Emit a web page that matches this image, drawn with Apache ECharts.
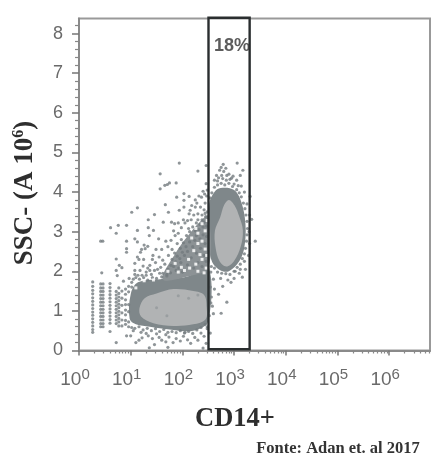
<!DOCTYPE html>
<html><head><meta charset="utf-8">
<style>html,body{margin:0;padding:0;background:#fff}#c{width:445px;height:462px;filter:blur(0.5px)}</style>
<script src="https://cdn.jsdelivr.net/npm/echarts@6/dist/echarts.min.js"></script>
</head><body><div id="c"></div>
<script>
// x values are log10(CD14+), y values are SSC-A in units of 10^6
const xTickValues = [1, 10, 100, 1000, 10000, 100000, 1000000];
const yTickValues = [0, 1, 2, 3, 4, 5, 6, 7, 8];
const yMinorValues = [0.2,0.4,0.6,0.8,1.2,1.4,1.6,1.8,2.2,2.4,2.6,2.8,3.2,3.4,3.6,3.8,4.2,4.4,4.6,4.8,5.2,5.4,5.6,5.8,6.2,6.4,6.6,6.8,7.2,7.4,7.6,7.8,8.2];
const gateX = [320, 2000];
const gateY = [0.03, 8.4];
const gateText = '18%';

const monocyteCore = [[2.90,3.80],[3.01,3.66],[3.10,3.38],[3.17,3.03],[3.13,2.63],[3.00,2.26],[2.85,2.12],[2.72,2.25],[2.64,2.61],[2.63,3.03],[2.73,3.36],[2.81,3.68]];
const monocyteHalo = [[2.74,4.10],[3.00,4.05],[3.14,3.75],[3.22,3.20],[3.20,2.61],[3.10,2.25],[2.90,2.00],[2.74,2.02],[2.58,2.22],[2.52,2.61],[2.52,3.70],[2.62,4.00]];
const lymphCore = [[1.17,1.07],[1.27,1.32],[1.50,1.44],[1.83,1.55],[2.21,1.50],[2.42,1.40],[2.47,1.09],[2.45,0.79],[2.21,0.66],[1.83,0.62],[1.44,0.69],[1.20,0.86]];
const lymphHalo = [[1.00,1.42],[1.14,1.72],[1.57,1.80],[2.08,1.86],[2.50,2.10],[2.50,0.74],[2.21,0.50],[1.83,0.52],[1.37,0.60],[1.10,0.66],[0.98,0.80]];
const diagonalBand = [[1.62,1.80],[1.86,2.44],[2.08,2.85],[2.34,3.25],[2.50,3.40],[2.50,2.10],[2.08,1.86]];

const stripeA = [[0.265,1.73],[0.265,1.62],[0.265,1.52],[0.265,1.43],[0.265,1.33],[0.265,1.24],[0.265,1.15],[0.265,1.06],[0.265,0.97],[0.265,0.89],[0.265,0.80],[0.265,0.71],[0.265,0.62],[0.265,0.53],[0.265,0.46]];
const stripeB = [[0.42,1.68],[0.42,1.58],[0.42,1.49],[0.42,1.40],[0.42,1.31],[0.42,1.22],[0.42,1.13],[0.42,1.04],[0.42,0.95],[0.42,0.86],[0.42,0.77],[0.42,0.68],[0.42,0.60],
  [0.465,1.68],[0.465,1.58],[0.465,1.49],[0.465,1.40],[0.465,1.31],[0.465,1.22],[0.465,1.13],[0.465,1.04],[0.465,0.95],[0.465,0.86],[0.465,0.77],[0.465,0.68],[0.465,0.60]];
const stripeC = [[0.60,1.69],[0.60,1.59],[0.60,1.50],[0.60,1.41],[0.60,1.32],[0.60,1.23],[0.60,1.14],[0.60,1.05],[0.60,0.96],[0.60,0.87],[0.60,0.78],[0.60,0.69],[0.60,0.48]];
const stripeD = [[0.72,1.49],[0.72,1.40],[0.72,1.31],[0.72,1.22],[0.72,1.13],[0.72,1.04],[0.72,0.95],[0.72,0.86],[0.72,0.77],[0.72,0.68],
  [0.77,1.58],[0.77,1.44],[0.77,1.35],[0.77,1.26],[0.77,1.17],[0.77,1.08],[0.77,0.99],[0.77,0.90],[0.77,0.81],[0.77,0.72],[0.77,0.62],
  [0.83,1.50],[0.83,1.32],[0.83,1.14],[0.83,0.95],[0.83,0.77],[0.83,0.62]];
const upperScatter = [[1.94,4.73],[1.57,4.46],[2.30,4.53],[2.46,4.67],[1.71,4.19],[1.66,4.17],[1.75,4.23],[1.57,4.08],[1.88,4.23],[1.89,3.87],[2.03,3.96],[2.03,3.79],[2.13,3.89],[2.25,3.80],[2.37,3.87],[2.46,4.21],[1.67,3.68],[1.13,3.60],[1.02,3.49],[1.46,3.43],[1.94,3.54],[1.73,3.49],[2.03,3.62],[2.15,3.54],[2.25,3.62],[1.34,3.30],[1.63,3.24],[1.79,3.24],[0.61,3.10],[0.76,3.16],[0.92,3.16],[0.72,2.96],[1.13,3.03],[1.34,3.10],[1.36,2.90],[1.44,3.03],[0.42,2.76],[0.46,2.76],[0.92,2.76],[0.92,2.57],[0.92,2.48],[1.08,2.82],[1.13,2.74],[1.54,2.82],[0.72,2.31],[0.78,2.15],[0.72,2.02],[0.83,2.09],[0.74,1.89],[0.44,1.96],[0.86,1.75],[0.97,1.82]];
const clusterScatter = [[1.13,2.36],[1.19,2.48],[1.28,2.57],[1.33,2.63],[1.08,2.20],[1.08,2.02],[1.24,2.13],[1.37,2.15],[1.37,2.02],[1.18,2.02],[1.25,2.30],[1.30,1.98],[1.08,1.92],[1.14,1.90],[1.22,1.90],[1.30,1.90],[1.40,1.92],[1.48,2.22],[1.55,2.36],[1.60,2.55],[1.49,2.55],[1.43,2.40],[1.52,2.05],[1.42,2.30],[1.58,2.10],[1.62,2.28],[1.21,2.55],[1.26,2.66],[1.16,2.30],[1.33,2.08],[1.46,2.02],[1.56,1.95]];
const diagonalScatter = [[1.68,2.76],[1.72,2.62],[1.78,2.78],[1.80,2.55],[1.86,2.90],[1.83,3.02],[1.92,2.96],[1.98,3.10],[1.90,2.70],[1.96,2.58],[1.73,2.40],[1.80,2.30],[1.66,2.18],[1.72,2.05],[1.83,2.12],[1.90,2.38],[1.97,2.22],[2.04,2.40],[2.02,2.72],[2.08,2.90],[2.05,3.22],[2.12,3.08],[2.17,3.30],[2.13,3.45],[2.22,3.42],[2.20,3.12],[2.27,3.22],[2.30,3.45],[2.35,3.62],[2.42,3.55],[2.44,3.72],[2.38,3.30],[2.45,3.38],[2.32,3.05],[2.40,3.12],[2.47,3.14],[2.27,2.90],[2.34,2.82],[2.14,2.74],[2.20,2.62],[2.10,2.50],[2.17,2.34],[2.27,2.46],[2.35,2.58],[2.44,2.70],[2.47,2.88],[2.42,2.40],[2.30,2.22],[2.22,2.08],[2.10,2.16],[2.38,2.12],[2.46,2.25],[1.93,2.08],[1.77,1.96],[1.62,1.95],[2.00,1.98],[2.47,3.90],[2.40,4.02],[2.48,4.05],[2.43,3.95],[2.10,3.28],[2.02,3.30],[1.92,3.22],[1.85,3.20],[2.28,3.72],[2.18,3.66],[1.98,2.80],[2.24,2.78],[2.40,2.92],[1.85,2.46],[2.32,3.90],[1.95,2.32],[1.87,2.24],[1.78,2.15],[1.70,1.88],[1.88,2.02],[2.07,2.62],[2.00,2.48],[2.14,3.00],[2.25,3.02],[2.34,3.18],[2.42,3.24],[2.48,3.50],[2.44,3.46],[2.38,3.42],[2.30,3.30]];
const lymphFringe = [[0.90,1.55],[0.90,1.42],[0.90,1.28],[0.90,1.16],[0.90,1.02],[0.90,0.90],[0.90,0.76],[0.90,0.66],[0.96,1.62],[0.96,1.48],[0.96,1.16],[0.96,0.98],[0.96,0.72],[0.96,0.60],[1.02,1.72],[1.02,1.60],[1.05,1.80],[1.10,1.84],[1.17,1.80],[1.25,1.84],[1.33,1.78],[1.42,1.84],[1.50,1.82],[1.60,1.86],[1.70,1.92],[1.02,0.58],[1.08,0.56],[1.16,0.60],[1.24,0.52],[1.32,0.56],[1.40,0.50],[1.48,0.55],[1.56,0.48],[1.64,0.53],[1.72,0.46],[1.80,0.48],[1.88,0.45],[1.96,0.50],[2.04,0.44],[2.12,0.48],[2.20,0.43],[2.28,0.52],[2.36,0.58],[2.44,0.66],[2.48,0.60]];
const lowerScatter = [[0.72,0.20],[0.92,0.37],[1.00,0.37],[1.10,0.20],[1.16,0.26],[1.22,0.32],[1.34,0.37],[1.42,0.30],[1.46,0.15],[1.55,0.33],[1.60,0.26],[1.68,0.22],[1.74,0.34],[1.82,0.20],[1.88,0.30],[1.96,0.24],[2.02,0.36],[2.10,0.27],[2.16,0.18],[2.24,0.33],[2.30,0.26],[2.36,0.44],[2.42,0.36],[2.48,0.55],[2.46,0.18],[1.05,0.50],[1.20,0.46],[1.30,0.43],[1.50,0.42],[1.68,0.40],[2.05,0.46],[1.36,0.07],[1.72,0.08],[2.40,0.06],[2.54,0.44]];
const gateScatter = [[2.79,4.70],[2.66,4.42],[3.06,4.73],[3.17,4.55],[2.72,4.55],[2.84,4.60],[2.90,4.45],[2.62,4.30],[2.76,4.42],[2.95,4.35],[3.05,4.30],[3.12,4.42],[2.68,4.28],[2.85,4.30],[3.00,4.20],[3.14,4.15],[3.20,4.00],[3.25,3.70],[3.31,3.89],[3.30,3.42],[3.34,3.31],[3.29,3.00],[3.41,2.76],[3.30,2.70],[3.28,2.40],[3.20,2.25],[3.22,2.05],[3.10,1.95],[3.12,2.05],[3.00,1.82],[2.88,1.78],[2.74,1.82],[2.60,1.80],[2.55,1.98],[2.62,1.55],[2.78,1.62],[2.70,1.42],[2.56,1.35],[2.60,0.93],[2.75,0.94],[2.86,1.22],[2.54,1.60],[3.02,2.00],[2.55,1.20],[2.52,0.88],[2.58,1.12],[2.94,1.72],[3.16,1.85]];
const monocyteFringe = [[2.68,4.18],[2.75,4.22],[2.82,4.18],[2.90,4.22],[2.97,4.14],[3.05,4.06],[3.10,3.98],[3.14,3.88],[3.18,3.72],[3.21,3.58],[3.23,3.42],[3.25,3.26],[3.26,3.08],[3.25,2.92],[3.24,2.76],[3.22,2.58],[3.20,2.44],[3.16,2.32],[3.12,2.18],[3.06,2.10],[3.00,2.00],[2.92,1.92],[2.84,1.94],[2.76,1.95],[2.68,1.98],[2.62,2.08],[2.56,2.12],[2.57,3.98],[2.53,3.85],[2.62,4.12],[2.70,4.36],[2.78,4.34],[2.86,4.42],[2.92,4.32],[2.98,4.40],[3.08,4.16],[2.80,4.52],[2.75,4.62]];
const whiteFlecks = [[1.72,2.00],[1.86,2.20],[1.98,2.10],[2.12,2.30],[2.04,2.02],[2.26,2.18],[2.38,2.30],[2.22,2.52],[2.34,2.42],[2.30,2.70],[2.44,2.56],[2.18,2.84],[2.38,2.76],[2.30,2.96],[2.44,3.02],[2.38,3.20],[2.47,2.40],[2.46,2.08],[2.14,2.08],[1.92,1.98],[1.44,1.78],[1.26,1.76],[1.10,1.58],[2.30,2.00],[2.42,1.96],[2.48,3.28],[2.26,3.08]];
const coreSpeckle = [[1.50,1.08],[1.92,1.38],[2.12,1.32],[2.30,1.40],[1.70,0.88]];

const toPoint = p => [Math.pow(10, p[0]), p[1]];
const allDots = [].concat(stripeA, stripeB, stripeC, stripeD, upperScatter, clusterScatter, diagonalScatter, lymphFringe, lowerScatter, gateScatter, monocyteFringe).map(toPoint);
const xMinorValues = [];
for (let k = 0; k < 7; k++) for (const m of [2,3,4,5,6,7,8,9]) if (k < 6 || m < 7) xMinorValues.push(m * Math.pow(10, k));

const polySeries = (polys, color, z) => ({
  type: 'custom', coordinateSystem: 'cartesian2d', z, silent: true, clip: false,
  data: polys.map((_, i) => [i]),
  encode: { x: -1, y: -1 },
  renderItem: (params, api) => ({
    type: 'polygon',
    shape: { points: polys[params.dataIndex].map(p => api.coord(toPoint(p))), smooth: 0.35 },
    style: { fill: color, stroke: null }
  })
});

const chart = echarts.init(document.getElementById('c'), null, { renderer: 'canvas' });
const tickRich = { a: { fontSize: 19, color: '#6a6a6a', fontFamily: 'Liberation Sans' },
                   s: { fontSize: 15, color: '#6a6a6a', fontFamily: 'Liberation Sans', padding: [0, 8, 10, 0] } };
chart.setOption({
  animation: false,
  backgroundColor: '#fff',
  grid: { left: 79, right: 15, top: 18.5, bottom: 111.5, show: true, borderColor: '#999', borderWidth: 2, backgroundColor: 'transparent' },
  xAxis: [{
    type: 'log', logBase: 10, min: 1, max: Math.pow(10, 6.79), position: 'bottom',
    axisLine: { show: true, lineStyle: { color: '#8a8a8a', width: 2 } },
    axisTick: { show: true, length: 5, lineStyle: { color: '#777', width: 1.5 }, customValues: xTickValues },
    axisLabel: { customValues: xTickValues, margin: 17, rich: tickRich, formatter: v => '{a|10}{s|' + Math.round(Math.log10(v)) + '}' },
    splitLine: { show: false }
  }, {
    type: 'log', logBase: 10, min: 1, max: Math.pow(10, 6.79), position: 'bottom',
    axisLine: { show: false },
    axisTick: { show: true, length: 3, lineStyle: { color: '#888', width: 1.2 }, customValues: xMinorValues },
    axisLabel: { show: false }, splitLine: { show: false }
  }],
  yAxis: [{
    type: 'value', min: 0, max: 8.38,
    axisLine: { show: true, lineStyle: { color: '#8a8a8a', width: 2 } },
    axisTick: { show: true, length: 7, lineStyle: { color: '#777', width: 1.5 }, customValues: yTickValues },
    axisLabel: { customValues: yTickValues, margin: 16, fontSize: 18, color: '#6a6a6a', fontFamily: 'Liberation Sans' },
    splitLine: { show: false }
  }, {
    type: 'value', min: 0, max: 8.38, position: 'left',
    axisLine: { show: false },
    axisTick: { show: true, length: 4, lineStyle: { color: '#888', width: 1.2 }, customValues: yMinorValues },
    axisLabel: { show: false }, splitLine: { show: false }
  }],
  graphic: [
    { type: 'text', x: 25, y: 193, rotation: Math.PI / 2, silent: true, style: {
        text: 'SSC- (A 10{s|6})', fill: '#2e2e2e', font: 'bold 27px "Liberation Serif"', textAlign: 'center', textVerticalAlign: 'middle',
        rich: { s: { font: 'bold 16px "Liberation Serif"', fill: '#2e2e2e', padding: [0, 0, 12, 0] } } } },
    { type: 'text', x: 235, y: 419, silent: true, style: { text: 'CD14+', fill: '#2e2e2e', font: 'bold 26.5px "Liberation Serif"', textAlign: 'center', textVerticalAlign: 'middle' } },
    { type: 'text', x: 338, y: 449, silent: true, style: { text: 'Fonte: Adan et. al 2017', fill: '#333', font: 'bold 16.5px "Liberation Serif"', textAlign: 'center', textVerticalAlign: 'middle' } }
  ],
  series: [
    polySeries([lymphHalo, monocyteHalo], '#7f878a', 1),
    polySeries([diagonalBand], '#8c9295', 1),
    { type: 'scatter', z: 2, symbol: 'circle', symbolSize: 3.2, silent: true, itemStyle: { color: '#737b7e' }, data: allDots },
    { type: 'scatter', z: 2.5, symbol: 'rect', symbolSize: 3, silent: true, itemStyle: { color: '#fff', opacity: 0.85 }, data: whiteFlecks.map(toPoint) },
    polySeries([lymphCore, monocyteCore], '#b1b3b4', 3),
    { type: 'scatter', z: 4, symbolSize: 3, silent: true, itemStyle: { color: '#94999b' }, data: coreSpeckle.map(toPoint) },
    {
      type: 'custom', coordinateSystem: 'cartesian2d', z: 5, silent: true, clip: false,
      data: [[0]], encode: { x: -1, y: -1 },
      renderItem: (params, api) => ({
        type: 'polygon',
        shape: { points: [[gateX[0],gateY[0]],[gateX[1],gateY[0]],[gateX[1],gateY[1]],[gateX[0],gateY[1]]].map(p => api.coord(p)) },
        style: { fill: 'none', stroke: '#2a2e2f', lineWidth: 2.4 }
      })
    },
    {
      type: 'scatter', z: 6, symbolSize: 0, silent: true,
      data: [[1000, 7.68]],
      label: { show: true, position: 'inside', offset: [-2, 0], formatter: gateText, fontSize: 18, fontWeight: 'bold', color: '#333', fontFamily: 'Liberation Sans' }
    }
  ]
});
</script></body></html>
